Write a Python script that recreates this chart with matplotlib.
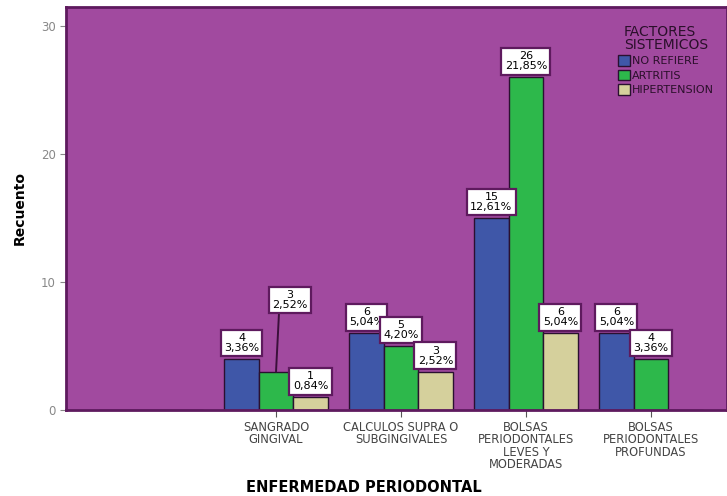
import matplotlib.pyplot as plt
import numpy as np

# data (first category was blanked out in the original)
categorias = ["", "SANGRADO\nGINGIVAL", "CALCULOS SUPRA O\nSUBGINGIVALES",
              "BOLSAS\nPERIODONTALES\nLEVES Y\nMODERADAS",
              "BOLSAS\nPERIODONTALES\nPROFUNDAS"]
no_refiere = [0, 4, 6, 15, 6]
artritis = [0, 3, 5, 26, 4]
hipertension = [0, 1, 3, 6, 0]
pct_no_refiere = ["", "3,36%", "5,04%", "12,61%", "5,04%"]
pct_artritis = ["", "2,52%", "4,20%", "21,85%", "3,36%"]
pct_hipertension = ["", "0,84%", "2,52%", "5,04%", ""]

series = ["NO REFIERE", "ARTRITIS", "HIPERTENSION"]
colores = ["#3F57A8", "#2DB84B", "#D5D09C"]
fondo = "#A14A9F"
borde = "#5E1A5E"

fig = plt.figure(figsize=(7.27, 4.96), dpi=100)
ax = fig.add_axes([0.091, 0.1734, 0.909, 0.8125])
ax.set_facecolor(fondo)

x = np.arange(len(categorias))
w = 0.276
valores = [no_refiere, artritis, hipertension]
pcts = [pct_no_refiere, pct_artritis, pct_hipertension]

caja = dict(boxstyle="square,pad=0.3", fc="white", ec=borde, lw=1.6)

for i, (vals, pc, col, nom) in enumerate(zip(valores, pcts, colores, series)):
    xs = x + (i - 1) * w
    ax.bar(xs, vals, w, color=col, edgecolor="#2A1030", linewidth=1.0, label=nom)
    for j in range(1, len(categorias)):
        if vals[j] == 0:
            continue
        txt = f"{vals[j]}\n{pc[j]}"
        if j == 1 and i == 1:
            # label lifted with a leader line
            ax.annotate(txt, xy=(xs[j], vals[j]), xytext=(xs[j] + 0.11, vals[j] + 5.6),
                        ha="center", va="center", fontsize=8, linespacing=1.0,
                        bbox=caja, arrowprops=dict(arrowstyle="-", color="#3A103A", lw=1.4,
                                                   shrinkA=0, shrinkB=0,
                                                   relpos=(0.2, 0.0)))
        else:
            ax.annotate(txt, xy=(xs[j], vals[j]), xytext=(0, 11.5),
                        textcoords="offset points", ha="center", va="center",
                        fontsize=8, linespacing=1.0, bbox=caja)

ax.set_xlim(-0.68, 4.61)
ax.set_ylim(0, 31.5)
ax.set_yticks([0, 10, 20, 30])
ax.set_xticks(x[1:])
ax.set_xticklabels(categorias[1:], fontsize=8.3, color="#444444", linespacing=0.92)
ax.tick_params(axis="y", labelsize=8.5, labelcolor="#888888", color="#888888", length=4)
ax.tick_params(axis="x", color="#555555", length=5, pad=3)

for s in ["top", "left", "right", "bottom"]:
    ax.spines[s].set_color(borde)
    ax.spines[s].set_linewidth(2)

ax.set_ylabel("Recuento", fontsize=10, fontweight="bold", labelpad=10)
fig.text(0.5, 1 - 487 / 496, "ENFERMEDAD PERIODONTAL", fontsize=10.5,
         fontweight="bold", ha="center", va="center")

leg = ax.legend(title="FACTORES\nSISTEMICOS", loc="upper right",
                bbox_to_anchor=(0.995, 0.98), frameon=False, fontsize=8,
                title_fontsize=10, handlelength=1.1, handleheight=1.1,
                handletextpad=0.15, labelspacing=0.3, alignment="center")
for t in leg.get_texts():
    t.set_color("#2A0F2A")
leg.get_title().set_color("#2A0F2A")
leg.get_title().set_linespacing(0.9)

fig.savefig("out.png", dpi=100)
